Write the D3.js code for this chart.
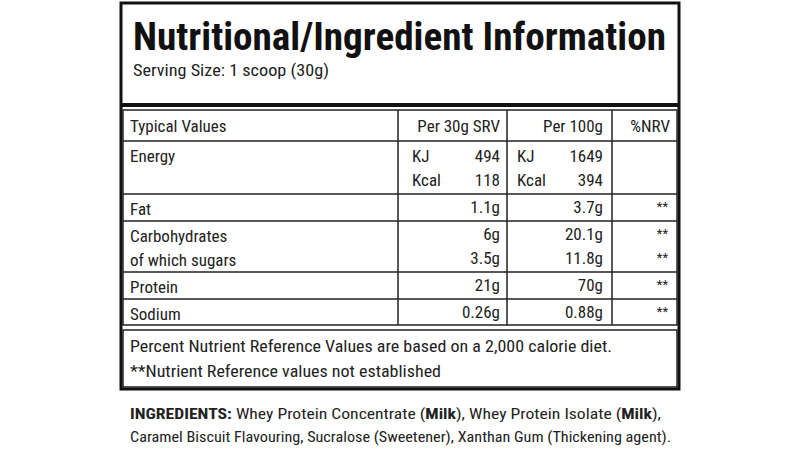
<!DOCTYPE html><html><head><meta charset="utf-8"><script src="https://d3js.org/d3.v7.min.js"></script>
<style>body{margin:0;background:#fff}text{font-family:"Liberation Sans Narrow","Roboto Condensed",Roboto,sans-serif;fill:#222}</style></head><body><svg id="c" width="800" height="462"></svg><script>
const headers=["Typical Values","Per 30g SRV","Per 100g","%NRV"];
const rowLabels=[["Energy",""],["Fat"],["Carbohydrates","of which sugars"],["Protein"],["Sodium"]];
const per30=[["KJ","494","Kcal","118"],["1.1g"],["6g","3.5g"],["21g"],["0.26g"]];
const per100=[["KJ","1649","Kcal","394"],["3.7g"],["20.1g","11.8g"],["70g"],["0.88g"]];
const nrv=[[],["**"],["**","**"],["**"],["**"]];
const rowBounds=[110,141,194,221,272,299,325];
const colBounds=[123,398,507,612,677];
const svg=d3.select("#c");
const g=svg.append("g");
// outer box
g.append("rect").attr("x",121).attr("y",3).attr("width",558).attr("height",386).attr("fill","none").attr("stroke","#111").attr("stroke-width",3);
g.append("line").attr("x1",121).attr("x2",679).attr("y1",105).attr("y2",105).attr("stroke","#111").attr("stroke-width",4);
g.append("text").attr("x",133).attr("y",50).attr("font-size",38).attr("font-weight","bold").attr("textLength",533).attr("lengthAdjust","spacingAndGlyphs").style("fill","#111").text("Nutritional/Ingredient Information");
g.append("text").attr("x",133).attr("y",76).attr("font-size",17).attr("textLength",196).attr("lengthAdjust","spacingAndGlyphs").text("Serving Size: 1 scoop (30g)");
// table grid
const T=g.append("g").attr("stroke","#222").attr("stroke-width",1.5);
T.append("rect").attr("x",colBounds[0]).attr("y",rowBounds[0]).attr("width",colBounds[4]-colBounds[0]).attr("height",rowBounds[6]-rowBounds[0]).attr("fill","none");
rowBounds.slice(1,6).forEach(y=>T.append("line").attr("x1",colBounds[0]).attr("x2",colBounds[4]).attr("y1",y).attr("y2",y));
colBounds.slice(1,4).forEach(x=>T.append("line").attr("x1",x).attr("x2",x).attr("y1",rowBounds[0]).attr("y2",rowBounds[6]));
const fs=17;
function t(x,y,s,anchor){g.append("text").attr("x",x).attr("y",y).attr("font-size",fs).attr("text-anchor",anchor||"start").text(s);}
t(130,132,headers[0]);t(500,132,headers[1],"end");t(603,132,headers[2],"end");t(670,132,headers[3],"end");
rowLabels.forEach((lab,i)=>{
  const y0=rowBounds[i+1];
  lab.forEach((s,j)=>{ if(s) t(130,y0+21+j*24,s); });
  const a=per30[i],b=per100[i];
  if(a.length===4){
    t(412,y0+21,a[0]);t(500,y0+21,a[1],"end");t(412,y0+45,a[2]);t(500,y0+45,a[3],"end");
    t(517,y0+21,b[0]);t(603,y0+21,b[1],"end");t(517,y0+45,b[2]);t(603,y0+45,b[3],"end");
  } else {
    a.forEach((s,j)=>t(500,y0+19+j*24,s,"end"));
    b.forEach((s,j)=>t(603,y0+19+j*24,s,"end"));
  }
  nrv[i].forEach((s,j)=>g.append("text").attr("x",668).attr("y",y0+17+j*24).attr("font-size",13).attr("text-anchor","end").text(s));
});
// footnote box
g.append("rect").attr("x",123).attr("y",330).attr("width",554).attr("height",57).attr("fill","none").attr("stroke","#222").attr("stroke-width",1.5);
g.append("text").attr("x",130).attr("y",352).attr("font-size",17).attr("textLength",482).attr("lengthAdjust","spacingAndGlyphs").text("Percent Nutrient Reference Values are based on a 2,000 calorie diet.");
g.append("text").attr("x",130).attr("y",377).attr("font-size",17).attr("textLength",311).attr("lengthAdjust","spacingAndGlyphs").text("**Nutrient Reference values not established");
// ingredients
const l1=g.append("text").attr("x",130).attr("y",419).attr("font-size",15.5).attr("textLength",531).attr("lengthAdjust","spacingAndGlyphs");
l1.append("tspan").attr("font-weight","bold").text("INGREDIENTS: ");
l1.append("tspan").text("Whey Protein Concentrate (");l1.append("tspan").attr("font-weight","bold").text("Milk");
l1.append("tspan").text("), Whey Protein Isolate (");l1.append("tspan").attr("font-weight","bold").text("Milk");l1.append("tspan").text("),");
g.append("text").attr("x",130).attr("y",442).attr("font-size",15.5).attr("textLength",541).attr("lengthAdjust","spacingAndGlyphs").text("Caramel Biscuit Flavouring, Sucralose (Sweetener), Xanthan Gum (Thickening agent).");
</script></body></html>
